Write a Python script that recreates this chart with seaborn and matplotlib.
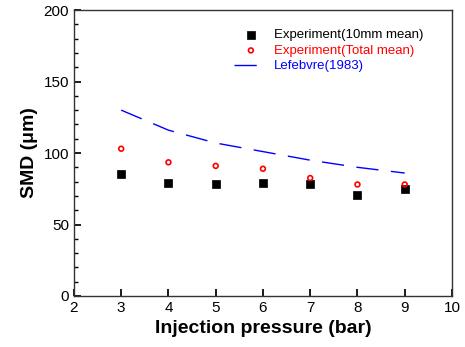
import matplotlib
matplotlib.use("Agg")
import matplotlib.pyplot as plt
import seaborn as sns
import pandas as pd
from matplotlib.ticker import MultipleLocator

pressure = [3, 4, 5, 6, 7, 8, 9]
smd_10mm = [85, 79, 78, 79, 78, 70.5, 75]
smd_total = [103, 93.5, 91, 89, 82.5, 78, 78]
smd_lefebvre = [130, 116, 107, 101, 95, 90, 86]

df = pd.DataFrame({"p": pressure, "m10": smd_10mm, "tot": smd_total, "lef": smd_lefebvre})

sns.set_theme(style="ticks")
plt.rcParams["font.family"] = ["Liberation Sans", "DejaVu Sans"]
plt.rcParams["text.color"] = "black"
plt.rcParams["axes.labelcolor"] = "black"

fig = plt.figure(figsize=(4.65, 3.47), dpi=100)
ax = fig.add_axes([0.159, 0.147, 0.813, 0.824])

sns.lineplot(data=df, x="p", y="lef", ax=ax, color="blue", lw=1.0,
             dashes=False, label="Lefebvre(1983)")
ax.lines[-1].set_dashes([16, 9])
sns.scatterplot(data=df, x="p", y="m10", ax=ax, marker="s", s=30, color="black",
                edgecolor="black", linewidth=0.5, label="Experiment(10mm mean)")
sns.scatterplot(data=df, x="p", y="tot", ax=ax, marker="o", s=12, facecolor="none",
                edgecolor="red", linewidth=1.2, label="Experiment(Total mean)")

ax.set_xlim(2, 10)
ax.set_ylim(0, 200)
ax.xaxis.set_major_locator(MultipleLocator(1))
ax.yaxis.set_major_locator(MultipleLocator(50))
ax.yaxis.set_minor_locator(MultipleLocator(10))
ax.tick_params(direction="in", which="both", labelsize=11, colors="black")
ax.tick_params(which="major", length=5)
ax.tick_params(which="minor", length=3)
for s in ax.spines.values():
    s.set_color("#333333")
    s.set_linewidth(1.0)

ax.set_xlabel("Injection pressure (bar)", fontsize=14, fontweight="bold")
ax.set_ylabel("SMD (\u03bcm)", fontsize=14, fontweight="bold")

h, l = ax.get_legend_handles_labels()
order = [1, 2, 0]
leg = ax.legend([h[i] for i in order], [l[i] for i in order], loc="upper left",
                frameon=False, fontsize=9.5, handlelength=2.5, handletextpad=0.5,
                labelspacing=0.25, bbox_to_anchor=(0.393, 0.975))
for t, c in zip(leg.get_texts(), ["black", "red", "blue"]):
    t.set_color(c)

fig.savefig("out.png", dpi=100)
